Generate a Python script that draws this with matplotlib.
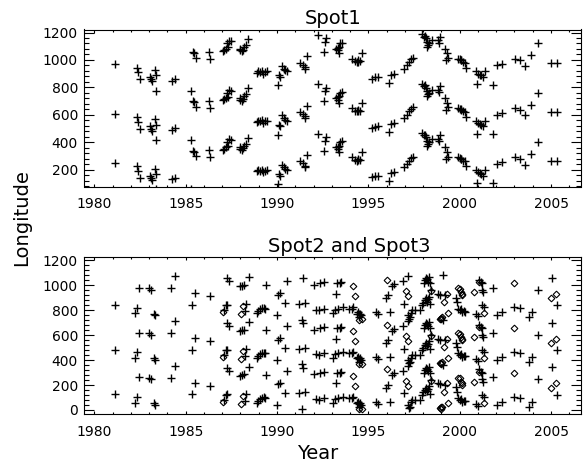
import matplotlib
matplotlib.use("Agg")
import matplotlib.pyplot as plt
from matplotlib.ticker import MultipleLocator, FixedLocator
import numpy as np

plt.rcParams['font.family'] = ['DejaVu Sans']

# ---------------- data ----------------
# Spot1 (top panel): year, longitude (plotted at lon, lon+360, lon+720)
spot1_year = [1981.14, 1982.33, 1982.42, 1982.48, 1983.06, 1983.12, 1983.16, 1983.30, 1983.39, 1983.36,
              1984.26, 1984.44, 1985.27, 1985.40, 1985.44, 1985.55, 1986.28, 1986.33,
              1987.05, 1987.12, 1987.20, 1987.28, 1987.38, 1987.46, 1987.32,
              1987.95, 1988.00, 1988.08, 1988.15, 1988.22, 1988.30, 1988.40,
              1988.88, 1988.96, 1989.07, 1989.16, 1989.24, 1989.35, 1989.45,
              1990.06, 1990.10, 1990.14, 1990.28, 1990.37, 1990.46, 1990.55,
              1991.28, 1991.42, 1991.51, 1991.55, 1991.64,
              1992.22, 1992.59, 1992.63, 1992.68,
              1993.25, 1993.32, 1993.38, 1993.45, 1993.55, 1993.41, 1993.35,
              1994.11, 1994.29, 1994.38, 1994.46, 1994.55, 1994.64, 1994.42,
              1995.18, 1995.36, 1995.54, 1996.11, 1996.25, 1996.38,
              1996.96, 1997.09, 1997.20, 1997.32, 1997.45,
              1997.95, 1998.04, 1998.13, 1998.21, 1998.27, 1998.34, 1998.48, 1998.23, 1998.08,
              1998.84, 1998.93, 1998.89, 1999.20, 1999.29, 1999.34, 1999.23,
              1999.91, 2000.00, 2000.09, 2000.18, 2000.27, 2000.36, 2000.05,
              2000.91, 2001.00, 2001.09, 2001.18, 2001.27, 2001.36, 2000.96,
              2001.84, 2002.05, 2002.29, 2003.04, 2003.30, 2003.57, 2003.93, 2004.29,
              2005.00, 2005.30]
spot1_lon = [247, 223, 191, 138, 155, 138, 125, 206, 169, 57,
             130, 142, 57, 338, 330, 296, 340, 289,
             345, 352, 362, 400, 420, 415, 372,
             363, 351, 344, 356, 376, 388, 432,
             188, 198, 193, 200, 180, 193, 198,
             95, 168, 156, 237, 217, 205, 198,
             261, 246, 229, 217, 307,
             461, 339, 412, 437,
             363, 351, 376, 400, 407, 327, 368,
             290, 271, 266, 278, 271, 327, 268,
             144, 152, 156, 115, 173, 181,
             217, 242, 266, 285, 295,
             466, 449, 437, 412, 388, 400, 424, 376, 455,
             424, 449, 407, 363, 327, 295, 278,
             290, 285, 278, 266, 261, 224, 280,
             198, 181, 173, 168, 156, 198, 102,
             100, 241, 254, 290, 278, 237, 315, 400,
             261, 261]

# Spot2 (bottom panel, plus symbols)
spot2_year = [1981.12, 1982.24, 1982.34, 1982.44, 1983.02, 1983.10, 1983.25, 1983.35, 1984.20, 1984.42,
              1985.35, 1985.52, 1986.35, 1987.12, 1987.20, 1987.28, 1987.25, 1987.38,
              1987.98, 1988.08, 1988.18, 1988.30, 1988.25, 1988.45,
              1988.88, 1988.98, 1989.08, 1989.18, 1989.28, 1989.36, 1989.42,
              1990.00, 1990.05, 1990.15, 1990.42, 1990.55,
              1991.20, 1991.38, 1991.45, 1991.52,
              1992.05, 1992.12, 1992.30, 1992.35, 1992.55, 1992.60,
              1993.05, 1993.15, 1993.25, 1993.28, 1993.35, 1993.45, 1993.50, 1993.60,
              1993.94, 1994.10, 1994.16, 1994.38, 1994.44, 1994.50, 1994.56, 1994.48, 1994.62,
              1995.40, 1995.54, 1995.95, 1996.05, 1996.18, 1996.32, 1996.43,
              1996.90, 1996.93, 1997.15, 1997.18, 1997.22, 1997.28, 1997.32, 1997.40, 1997.55,
              1997.82, 1997.95, 1998.00, 1998.05, 1998.10, 1998.12, 1998.15, 1998.18, 1998.20,
              1998.22, 1998.25, 1998.28, 1998.30, 1998.32, 1998.35, 1998.38, 1998.45,
              1998.84, 1998.92, 1999.10, 1999.20,
              1999.82, 1999.87, 1999.92, 2000.00, 2000.08, 2000.15, 2000.22, 2000.28,
              2000.90, 2000.98, 2001.04, 2001.16, 2001.22, 2001.20, 2001.30, 2001.34, 2001.23,
              2001.84, 2002.05, 2002.30, 2003.00, 2003.30, 2003.79, 2003.98, 2004.29,
              2005.04, 2005.30]
spot2_lon = [125, 59, 102, 261, 255, 245, 53, 40, 259, 355,
             125, 219, 192, 80, 120, 125, 335, 316,
             273, 278, 285, 128, 75, 347,
             58, 72, 88, 95, 100, 93, 280,
             40, 205, 219, 139, 315,
             133, 5, 338, 141,
             285, 86, 80, 299, 307, 93,
             59, 86, 213, 300, 94, 299, 307, 107,
             94, 93, 107, 53, 67, 48, 53, 27, 40,
             67, 48, 178, 200, 67, 277, 293,
             311, 133, 352, 40, 13, 27, 60, 80, 80,
             80, 120, 140, 300, 160, 320, 180, 340, 150,
             330, 170, 310, 190, 345, 130, 295, 240,
             213, 205, 360, 200,
             181, 147, 93, 80, 88, 67, 75, 70,
             48, 32, 325, 307, 299, 245, 227, 107, 120,
             261, 40, 67, 107, 99, 27, 67, 245,
             341, 120]

# Spot3 (bottom panel, diamonds)
spot3_year = [1987.05, 1988.04, 1988.12, 1994.16, 1994.26, 1994.47, 1994.68,
              1996.02, 1997.05, 1997.15, 1998.45,
              1998.90, 1998.95, 1999.00, 1999.05, 1999.16, 1999.29, 1999.37,
              1999.90, 2000.00, 2000.05, 2000.10, 2000.15,
              2000.80, 2001.07, 2001.34, 2003.00, 2005.00, 2005.27]
spot3_lon = [67, 48, 115, 271, 191, 5, 8,
             325, 231, 191, 235,
             13, 20, 8, 25, 147, 213, 59,
             258, 253, 227, 213, 200,
             227, 307, 59, 299, 179, 213]

wrap_offsets = [0, 360, 720]
xticks = [1980, 1985, 1990, 1995, 2000, 2005]
yticks_top = [200, 400, 600, 800, 1000, 1200]
yticks_bot = [0, 200, 400, 600, 800, 1000, 1200]

# ---------------- figure ----------------
W, H = 586, 463
fig = plt.figure(figsize=(W / 100, H / 100), dpi=100)
left, right = 83.5, 581.0
ax1 = fig.add_axes([left / W, 1 - 186.5 / H, (right - left) / W, 157 / H])
ax2 = fig.add_axes([left / W, 1 - 414.3 / H, (right - left) / W, 157 / H])

plus_kw = dict(marker='+', linestyle='none', color='black', markersize=5.5, markeredgewidth=1.0)
diam_kw = dict(marker='D', linestyle='none', markerfacecolor='none', markeredgecolor='black',
               markersize=3.4, markeredgewidth=0.8)

for off in wrap_offsets:
    ax1.plot(spot1_year, np.array(spot1_lon) + off, **plus_kw)
    ax2.plot(spot2_year, np.array(spot2_lon) + off, **plus_kw)
    ax2.plot(spot3_year, np.array(spot3_lon) + off, **diam_kw)

ax1.set_ylim(77, 1222)
ax2.set_ylim(-35, 1225)
for ax, yt in ((ax1, yticks_top), (ax2, yticks_bot)):
    ax.set_xlim(1979.41, 2006.64)
    ax.xaxis.set_major_locator(FixedLocator(xticks))
    ax.xaxis.set_minor_locator(MultipleLocator(1))
    ax.yaxis.set_major_locator(FixedLocator(yt))
    ax.yaxis.set_minor_locator(MultipleLocator(40))
    ax.tick_params(axis='both', which='both', direction='in', top=True, right=True,
                   width=0.8, labelsize=10, colors='black')
    ax.tick_params(axis='x', which='major', length=2.4, pad=7.5)
    ax.tick_params(axis='x', which='minor', length=1.2)
    ax.tick_params(axis='y', which='major', length=7.2, pad=4)
    ax.tick_params(axis='y', which='minor', length=3.6)
    for s in ax.spines.values():
        s.set_linewidth(0.8)

fig.text(333 / W, 1 - 24.5 / H, 'Spot1', ha='center', va='baseline', fontsize=14)
fig.text(349 / W, 1 - 252.5 / H, 'Spot2 and Spot3', ha='center', va='baseline', fontsize=14)
fig.text(318 / W, 1 - 459 / H, 'Year', ha='center', va='baseline', fontsize=14)
fig.text(22 / W, 1 - 218 / H, 'Longitude', ha='center', va='center', rotation=90, fontsize=14)

fig.savefig('out.png', dpi=100)
